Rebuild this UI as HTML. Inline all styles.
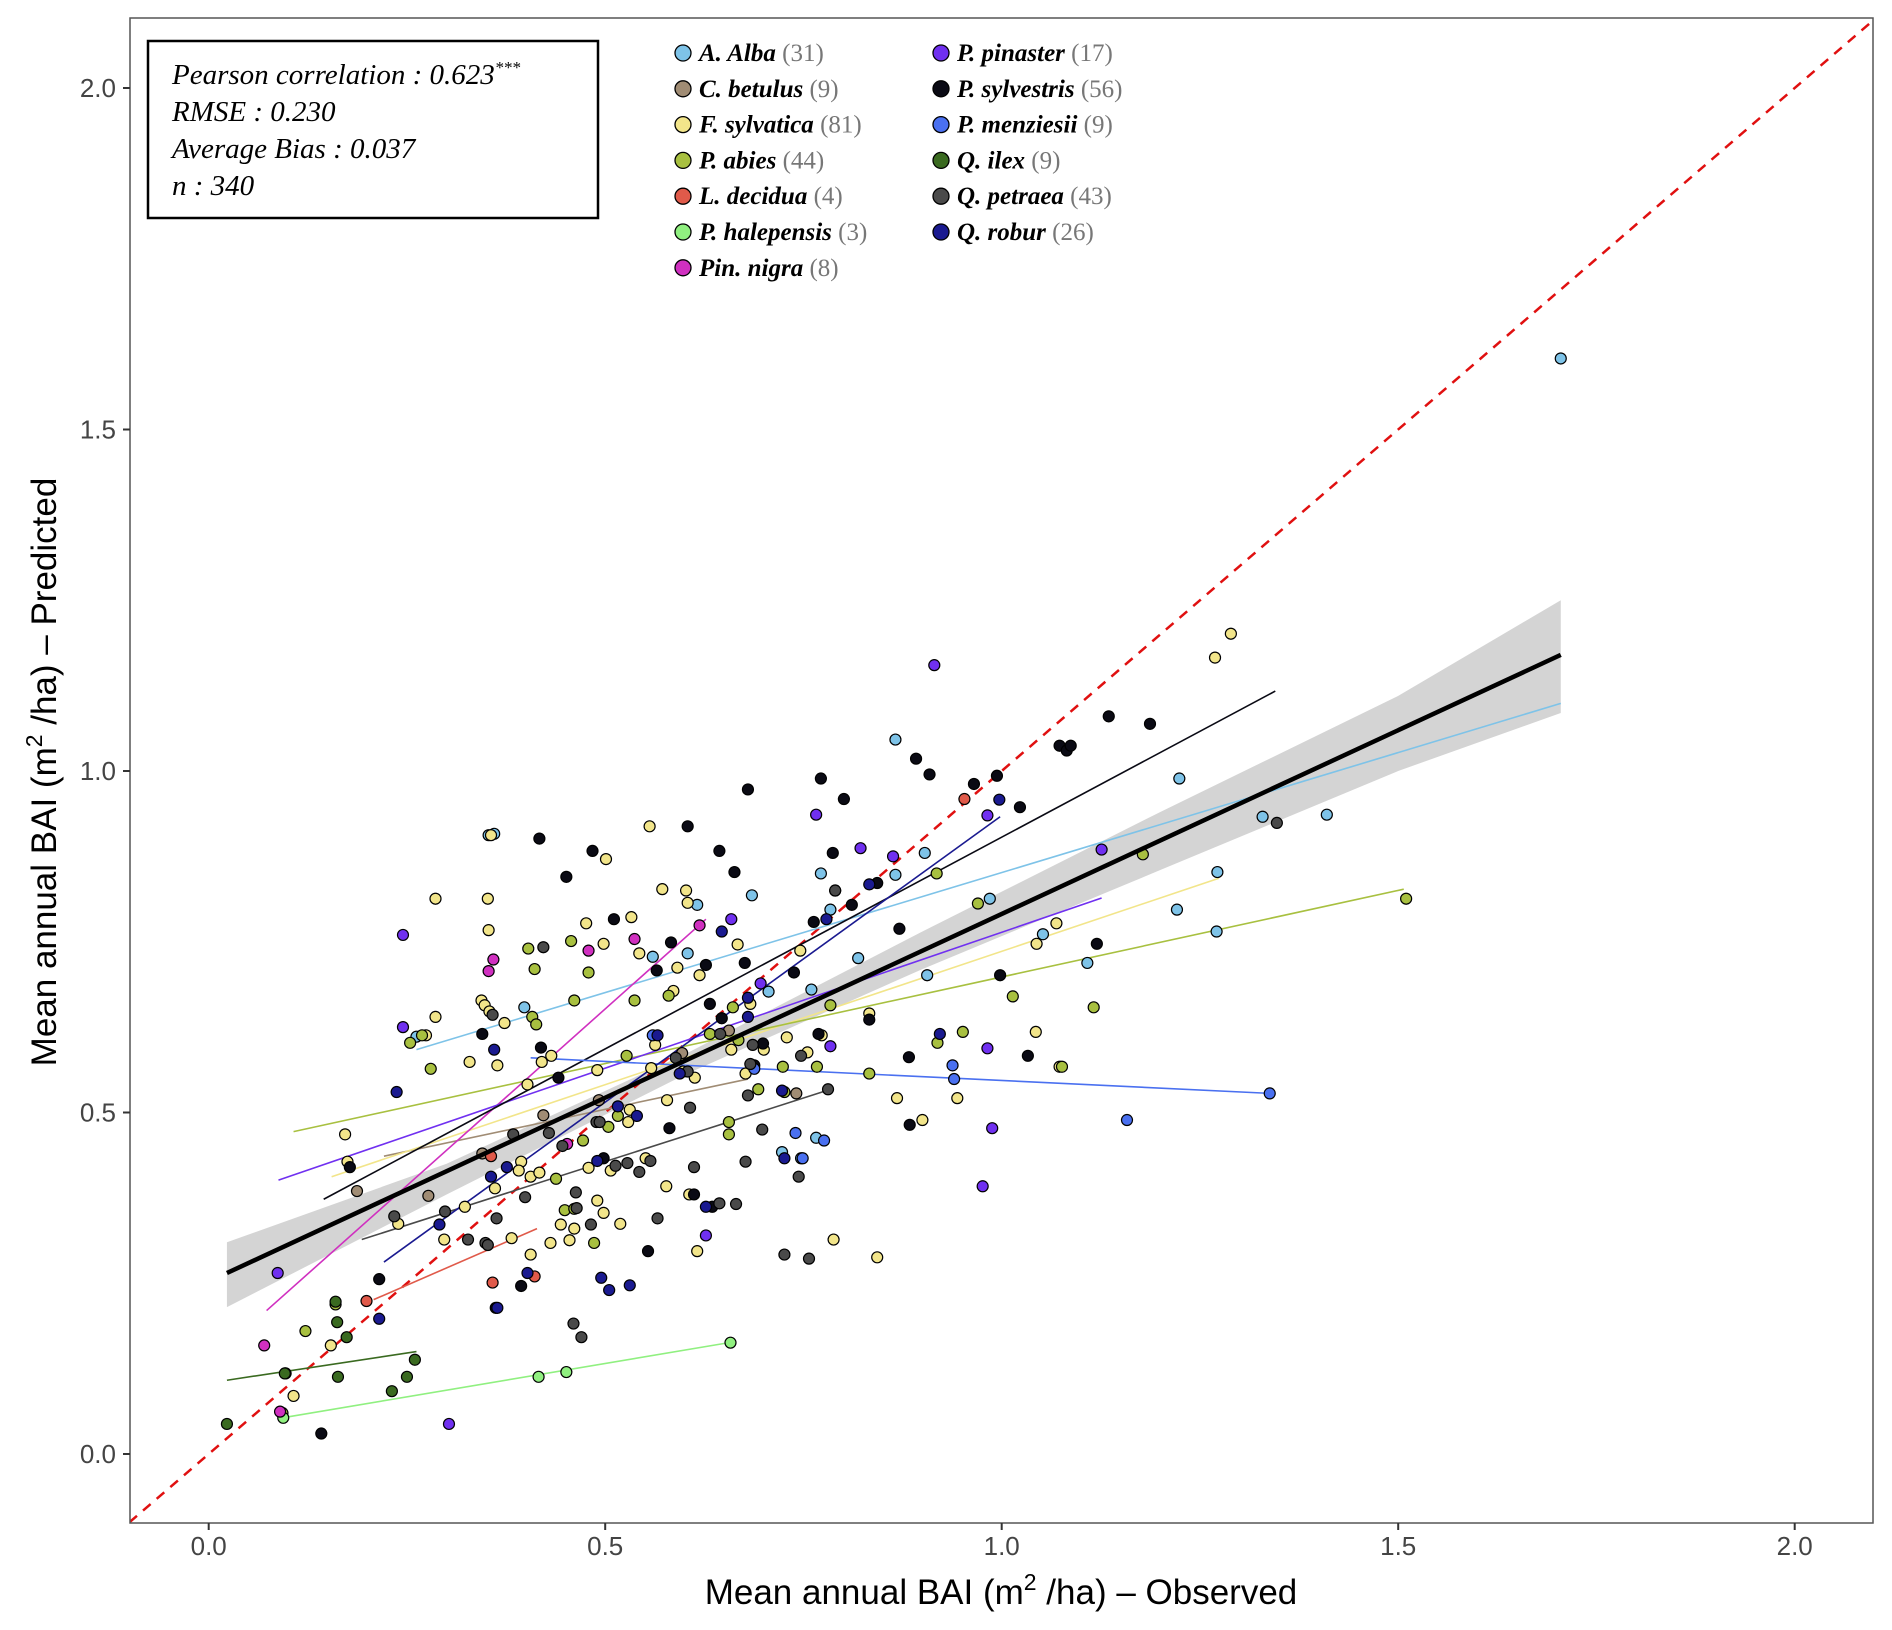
<!DOCTYPE html>
<html><head><meta charset="utf-8"><style>
body{margin:0;background:#fff}
svg{display:block}
text{font-family:"Liberation Sans",sans-serif}
.lg{font-family:"Liberation Serif",serif;font-style:italic}
.st text{font-family:"Liberation Serif",serif;font-style:italic}
</style></head><body>
<svg id="c" width="1892" height="1630" viewBox="0 0 1892 1630"></svg>
<script>
const xTicks=[0,0.5,1.0,1.5,2.0];
const yTicks=[0,0.5,1.0,1.5,2.0];
const xTickLabels=["0.0","0.5","1.0","1.5","2.0"];
const yTickLabels=["0.0","0.5","1.0","1.5","2.0"];
const species=["A. Alba","C. betulus","F. sylvatica","P. abies","L. decidua","P. halepensis","Pin. nigra","P. pinaster","P. sylvestris","P. menziesii","Q. ilex","Q. petraea","Q. robur"];
const counts=[31,9,81,44,4,3,8,17,56,9,9,43,26];
const colors=["#7ec3e8","#a08c74","#f2e58a","#a8c040","#e05a4a","#90f080","#d030c0","#7030f0","#0a0a14","#4a70f0","#3a6a20","#4a4a4a","#1a1a90"];
const ptsAlba=[[1.705,1.604],[0.866,1.046],[1.224,0.989],[1.41,0.936],[1.329,0.933],[1.272,0.852],[1.221,0.797],[1.271,0.765],[1.052,0.761],[1.108,0.719],[0.985,0.813],[0.903,0.88],[0.866,0.848],[0.772,0.85],[0.784,0.797],[0.906,0.701],[0.685,0.818],[0.616,0.804],[0.36,0.908],[0.353,0.906],[0.262,0.611],[0.398,0.654],[0.604,0.733],[0.56,0.728],[0.819,0.726],[0.706,0.677],[0.76,0.68],[0.747,0.433],[0.723,0.442],[0.766,0.463]];
const ptsBetulus=[[0.187,0.385],[0.345,0.44],[0.277,0.378],[0.422,0.496],[0.492,0.518],[0.597,0.587],[0.741,0.528],[0.656,0.62],[0.79,0.825]];
const ptsSylvatica=[[1.289,1.201],[1.269,1.166],[0.356,0.906],[0.286,0.813],[0.352,0.813],[0.353,0.767],[0.556,0.919],[0.501,0.871],[0.572,0.827],[0.602,0.825],[0.604,0.807],[0.533,0.786],[0.498,0.747],[0.543,0.733],[0.591,0.712],[0.586,0.678],[0.619,0.701],[0.667,0.746],[0.746,0.737],[0.344,0.664],[0.348,0.657],[0.354,0.648],[0.373,0.631],[0.286,0.64],[0.274,0.613],[0.329,0.574],[0.364,0.569],[0.42,0.574],[0.432,0.583],[0.402,0.541],[0.49,0.562],[0.563,0.599],[0.558,0.565],[0.598,0.56],[0.613,0.551],[0.659,0.592],[0.729,0.61],[0.773,0.613],[0.755,0.588],[0.677,0.557],[1.043,0.618],[1.073,0.567],[1.069,0.777],[1.044,0.747],[0.868,0.521],[0.944,0.521],[0.9,0.489],[0.788,0.314],[0.843,0.288],[0.616,0.297],[0.606,0.38],[0.577,0.392],[0.507,0.415],[0.479,0.419],[0.406,0.406],[0.394,0.428],[0.391,0.415],[0.361,0.389],[0.323,0.362],[0.297,0.314],[0.239,0.337],[0.175,0.428],[0.172,0.468],[0.154,0.159],[0.107,0.085],[0.455,0.313],[0.461,0.33],[0.519,0.337],[0.531,0.504],[0.578,0.518],[0.683,0.659],[0.476,0.777],[0.417,0.412],[0.529,0.486],[0.382,0.316],[0.444,0.336],[0.49,0.371],[0.551,0.433],[0.7,0.592],[0.833,0.645],[0.406,0.292],[0.498,0.353],[0.431,0.309]];
const ptsAbies=[[1.51,0.813],[1.178,0.878],[0.918,0.85],[1.116,0.654],[1.014,0.67],[1.076,0.567],[0.919,0.602],[0.951,0.618],[0.97,0.806],[0.457,0.751],[0.479,0.705],[0.403,0.74],[0.411,0.71],[0.408,0.64],[0.413,0.629],[0.269,0.613],[0.254,0.602],[0.461,0.664],[0.537,0.664],[0.58,0.671],[0.632,0.615],[0.668,0.606],[0.726,0.53],[0.767,0.567],[0.724,0.567],[0.693,0.534],[0.656,0.486],[0.656,0.468],[0.504,0.479],[0.516,0.495],[0.472,0.459],[0.449,0.357],[0.486,0.309],[0.093,0.06],[0.097,0.118],[0.122,0.18],[0.16,0.219],[0.28,0.564],[0.461,0.359],[0.527,0.583],[0.661,0.654],[0.784,0.657],[0.833,0.557],[0.438,0.403]];
const ptsDecidua=[[0.199,0.224],[0.358,0.251],[0.411,0.26],[0.356,0.436],[0.953,0.959]];
const ptsHalepensis=[[0.094,0.053],[0.416,0.113],[0.451,0.12],[0.658,0.163]];
const ptsNigra=[[0.07,0.159],[0.09,0.062],[0.359,0.724],[0.353,0.707],[0.479,0.737],[0.537,0.754],[0.619,0.774],[0.452,0.454]];
const ptsPinaster=[[0.087,0.265],[0.245,0.76],[0.245,0.625],[0.766,0.936],[0.822,0.887],[0.863,0.875],[0.982,0.935],[0.915,1.155],[1.126,0.885],[0.784,0.597],[0.982,0.594],[0.988,0.477],[0.976,0.392],[0.627,0.32],[0.303,0.044],[0.659,0.783],[0.696,0.689]];
const ptsSylvestris=[[1.135,1.08],[1.187,1.069],[1.073,1.037],[1.082,1.03],[1.087,1.037],[0.892,1.018],[0.909,0.995],[0.994,0.993],[0.965,0.981],[1.023,0.947],[0.772,0.989],[0.68,0.973],[0.801,0.959],[0.604,0.919],[0.417,0.901],[0.484,0.883],[0.451,0.845],[0.644,0.883],[0.663,0.852],[0.787,0.88],[0.811,0.804],[0.843,0.836],[0.871,0.769],[0.511,0.783],[0.583,0.749],[0.565,0.708],[0.627,0.716],[0.676,0.719],[0.763,0.779],[0.738,0.705],[0.632,0.659],[0.647,0.638],[0.699,0.601],[0.345,0.615],[0.419,0.595],[0.998,0.701],[1.12,0.747],[1.033,0.583],[0.883,0.581],[0.884,0.482],[0.178,0.42],[0.215,0.256],[0.362,0.214],[0.394,0.246],[0.142,0.03],[0.635,0.362],[0.612,0.38],[0.554,0.297],[0.498,0.433],[0.769,0.615],[0.833,0.636],[0.441,0.551],[0.581,0.477],[0.688,0.569]];
const ptsMenziesii=[[1.338,0.528],[1.158,0.489],[0.938,0.569],[0.94,0.549],[0.74,0.47],[0.776,0.459],[0.749,0.433],[0.56,0.613],[0.688,0.564]];
const ptsIlex=[[0.023,0.044],[0.096,0.118],[0.16,0.223],[0.162,0.193],[0.163,0.113],[0.174,0.171],[0.231,0.092],[0.25,0.113],[0.26,0.138]];
const ptsPetraea=[[1.347,0.924],[0.79,0.825],[0.422,0.742],[0.358,0.643],[0.384,0.468],[0.429,0.47],[0.489,0.486],[0.604,0.56],[0.607,0.507],[0.645,0.615],[0.686,0.599],[0.747,0.583],[0.781,0.534],[0.683,0.571],[0.68,0.525],[0.698,0.475],[0.677,0.428],[0.612,0.42],[0.557,0.429],[0.543,0.413],[0.528,0.426],[0.513,0.422],[0.493,0.486],[0.446,0.451],[0.463,0.383],[0.399,0.376],[0.363,0.345],[0.349,0.309],[0.352,0.306],[0.327,0.314],[0.298,0.355],[0.234,0.348],[0.46,0.191],[0.47,0.171],[0.482,0.336],[0.566,0.345],[0.644,0.367],[0.665,0.366],[0.726,0.292],[0.757,0.286],[0.744,0.406],[0.589,0.58],[0.464,0.36]];
const ptsRobur=[[0.997,0.958],[0.922,0.615],[0.833,0.834],[0.779,0.783],[0.68,0.668],[0.68,0.64],[0.647,0.765],[0.516,0.509],[0.566,0.613],[0.594,0.557],[0.54,0.495],[0.49,0.429],[0.495,0.258],[0.505,0.24],[0.531,0.247],[0.402,0.265],[0.376,0.42],[0.356,0.406],[0.36,0.592],[0.291,0.336],[0.237,0.53],[0.215,0.198],[0.364,0.214],[0.726,0.433],[0.627,0.362],[0.723,0.532]];
const allPts=[ptsAlba,ptsBetulus,ptsSylvatica,ptsAbies,ptsDecidua,ptsHalepensis,ptsNigra,ptsPinaster,ptsSylvestris,ptsMenziesii,ptsIlex,ptsPetraea,ptsRobur];
const fitLines=[[0.262,0.592,1.705,1.099],[0.221,0.436,0.68,0.549],[0.155,0.406,1.274,0.843],[0.107,0.472,1.507,0.827],[0.208,0.226,0.414,0.33],[0.093,0.053,0.661,0.164],[0.073,0.21,0.627,0.783],[0.088,0.401,1.126,0.814],[0.145,0.373,1.345,1.117],[0.406,0.58,1.338,0.528],[0.023,0.108,0.262,0.15],[0.193,0.314,0.779,0.532],[0.221,0.281,0.998,0.933]];
const overallFit=[0.023,0.265,1.705,1.17];
const ribbonX=[0.023,0.3,0.6,0.9,1.2,1.5,1.705];
const ribbonLo=[0.215,0.38,0.555,0.71,0.855,1.0,1.085];
const ribbonHi=[0.31,0.425,0.585,0.765,0.94,1.11,1.25];

const NS="http://www.w3.org/2000/svg";
const svg=document.getElementById('c');
const X=v=>208.7+v*793, Y=v=>1454-v*683;
function mk(t,a,p){const e=document.createElementNS(NS,t);for(const k in a)e.setAttribute(k,a[k]);(p||svg).appendChild(e);return e;}
const L=130,R=1873,T=18,B=1523;
const clip=mk('clipPath',{id:'cp'});mk('rect',{x:L,y:T,width:R-L,height:B-T},clip);
const g=mk('g',{'clip-path':'url(#cp)'});


let d='M'+ribbonX.map((x,i)=>X(x)+','+Y(ribbonHi[i])).join('L');
for(let i=ribbonX.length-1;i>=0;i--)d+='L'+X(ribbonX[i])+','+Y(ribbonLo[i]);
const rb=mk('path',{d:d+'Z',fill:'#d4d4d4'},g);


const oo=mk('line',{x1:X(-0.1),y1:Y(-0.1),x2:X(2.1),y2:Y(2.1),stroke:'#e01010','stroke-width':2.5,'stroke-dasharray':'10,8'},g);


fitLines.forEach((f,i)=>{const l=mk('line',{x1:X(f[0]),y1:Y(f[1]),x2:X(f[2]),y2:Y(f[3]),stroke:colors[i],'stroke-width':1.6},g);

});
allPts.forEach((arr,i)=>arr.forEach(p=>{const c=mk('circle',{cx:X(p[0]),cy:Y(p[1]),r:5.5,fill:colors[i],stroke:'#000','stroke-width':1.2},g);

}));
const of=mk('line',{x1:X(overallFit[0]),y1:Y(overallFit[1]),x2:X(overallFit[2]),y2:Y(overallFit[3]),stroke:'#000','stroke-width':4.5},g);


const fr=mk('rect',{x:L,y:T,width:R-L,height:B-T,fill:'none',stroke:'#555','stroke-width':1.5});


xTicks.forEach((v,i)=>{mk('line',{x1:X(v),y1:B,x2:X(v),y2:B+7,stroke:'#333','stroke-width':2});
const t=mk('text',{x:X(v),y:1555,'text-anchor':'middle','font-size':26,fill:'#444'});t.textContent=xTickLabels[i];

});
yTicks.forEach((v,i)=>{mk('line',{x1:L-7,y1:Y(v),x2:L,y2:Y(v),stroke:'#333','stroke-width':2});
const t=mk('text',{x:116,y:Y(v)+9,'text-anchor':'end','font-size':26,fill:'#444'});t.textContent=yTickLabels[i];

});
species.forEach((s,i)=>{const col=i<7?0:1,row=i<7?i:i-7;const cx=col?941:683,cy=53+row*35.8;
mk('circle',{cx:cx,cy:cy,r:8,fill:colors[i],stroke:'#000','stroke-width':1.3});
const t=mk('text',{x:cx+16,y:cy+8,'font-size':25,class:'lg'});
const a=mk('tspan',{'font-weight':'bold',fill:'#000'},t);a.textContent=s+' ';
const b=mk('tspan',{fill:'#777','font-style':'normal'},t);b.textContent='('+counts[i]+')';

});
</script>
<svg style="position:absolute;left:0;top:0" width="1892" height="1630">
<rect x="148" y="41" width="450" height="177" fill="#fff" stroke="#000" stroke-width="2.5"/>
<g class="st" font-size="29" fill="#000">
<text x="172" y="84">Pearson correlation : 0.623<tspan font-size="17" dy="-11">***</tspan></text>
<text x="172" y="121">RMSE : 0.230</text>
<text x="172" y="158">Average Bias : 0.037</text>
<text x="172" y="195">n : 340</text>
</g>
<text x="1001" y="1604" text-anchor="middle" font-size="35" fill="#000">Mean annual BAI (m<tspan font-size="23" dy="-14">2</tspan><tspan dy="14"> /ha) – Observed</tspan></text>
<text transform="translate(56,772) rotate(-90)" text-anchor="middle" font-size="35" fill="#000">Mean annual BAI (m<tspan font-size="23" dy="-14">2</tspan><tspan dy="14"> /ha) – Predicted</tspan></text>
</svg>
</body></html>
